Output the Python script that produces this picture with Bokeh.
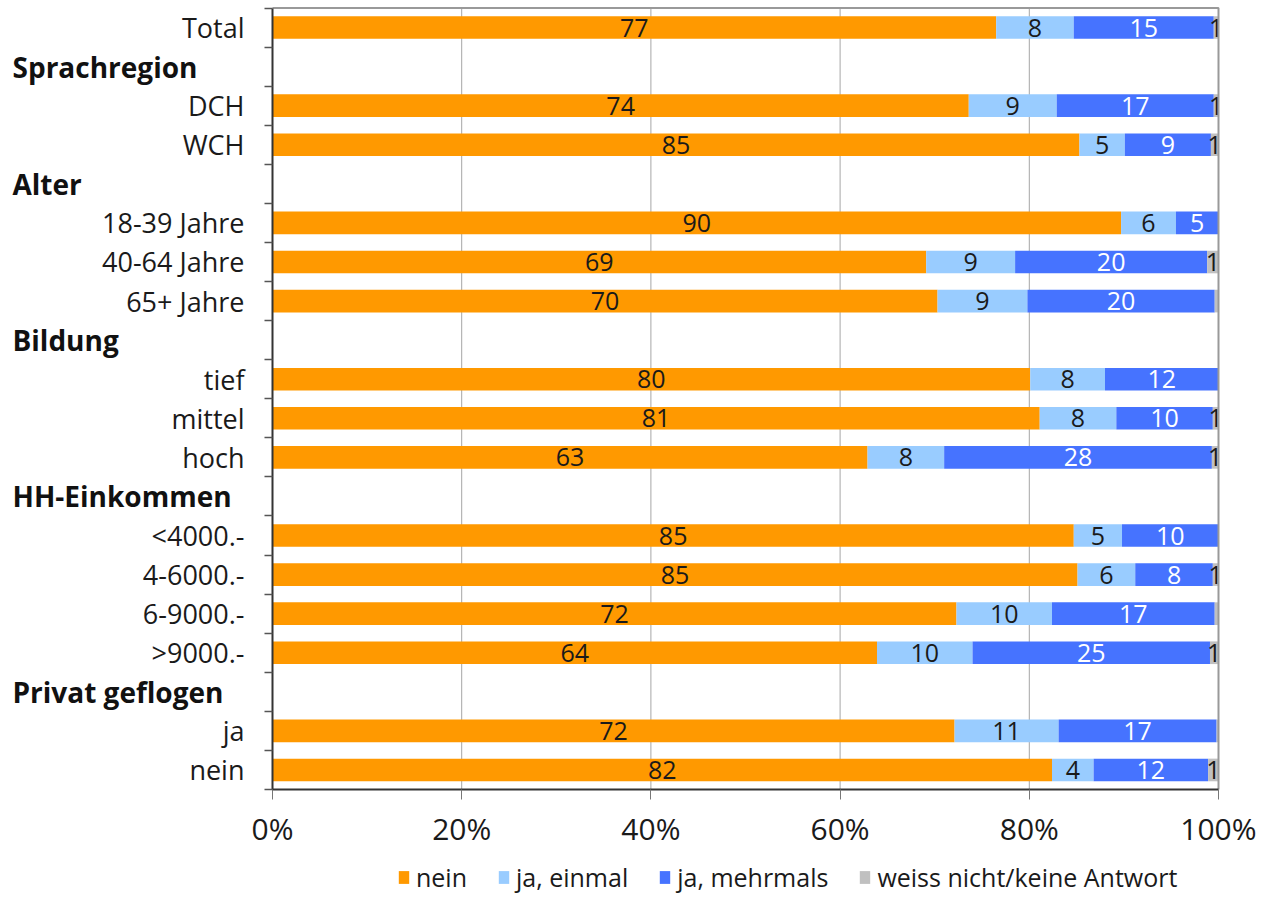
import numpy as np
from bokeh.plotting import figure
from bokeh.models import (Range1d, FixedTicker, Legend, LegendItem, LinearAxis,
                          ColumnDataSource, PrintfTickFormatter)
from bokeh.core.properties import value
from bokeh.embed import file_html
from bokeh.resources import INLINE

# ---------------- data ----------------
rows = ["Total", "Sprachregion", "DCH", "WCH", "Alter", "18-39 Jahre", "40-64 Jahre",
        "65+ Jahre", "Bildung", "tief", "mittel", "hoch", "HH-Einkommen", "<4000.-",
        "4-6000.-", "6-9000.-", ">9000.-", "Privat geflogen", "ja", "nein"]
headers = ["Sprachregion", "Alter", "Bildung", "HH-Einkommen", "Privat geflogen"]
categories = ["Total", "DCH", "WCH", "18-39 Jahre", "40-64 Jahre", "65+ Jahre", "tief",
              "mittel", "hoch", "<4000.-", "4-6000.-", "6-9000.-", ">9000.-", "ja", "nein"]

nein = [76.5, 73.6, 85.3, 89.7, 69.1, 70.3, 80.1, 81.1, 62.9, 84.7, 85.1, 72.3, 63.9, 72.1, 82.4]
ja_einmal = [8.2, 9.3, 4.8, 5.8, 9.4, 9.5, 7.9, 8.1, 8.1, 5.1, 6.1, 10.1, 10.1, 11.0, 4.4]
ja_mehrmals = [14.8, 16.6, 9.1, 4.5, 20.3, 19.8, 12.0, 10.2, 28.3, 10.2, 8.2, 17.2, 25.1, 16.7, 12.1]
weiss_nicht = [0.5, 0.5, 0.8, 0.0, 1.2, 0.4, 0.0, 0.6, 0.7, 0.0, 0.6, 0.4, 0.9, 0.2, 1.1]

nein_lbl = ["77", "74", "85", "90", "69", "70", "80", "81", "63", "85", "85", "72", "64", "72", "82"]
einmal_lbl = ["8", "9", "5", "6", "9", "9", "8", "8", "8", "5", "6", "10", "10", "11", "4"]
mehrmals_lbl = ["15", "17", "9", "5", "20", "20", "12", "10", "28", "10", "8", "17", "25", "17", "12"]
weiss_lbl = ["1", "1", "1", "", "1", "", "", "1", "1", "", "1", "", "1", "", "1"]

series_names = ["nein", "ja, einmal", "ja, mehrmals", "weiss nicht/keine Antwort"]
series_colors = ["#FF9900", "#99CCFF", "#4673FF", "#C0C0C0"]
label_colors = ["#1a1a1a", "#1a1a1a", "#FFFFFF", "#1a1a1a"]

x_ticks = [0, 20, 40, 60, 80, 100]

# ---------------- layout (pixels) ----------------
W, H = 1256, 894
left_px, right_px = 272, 1218        # where 0% and 100% sit on the canvas
top_px, bottom_px = 7.5, 789         # top of first row, bottom of last row
n = len(rows)
ppu = (right_px - left_px) / 100.0
ppr = (bottom_px - top_px) / n
x_start = -left_px / ppu
x_end = 100 + (W - right_px) / ppu
y_top = -0.5 - top_px / ppr
y_bottom = n - 0.5 + (H - bottom_px) / ppr

FONT = "Open Sans"
p = figure(width=W, height=H, x_range=Range1d(x_start, x_end), y_range=Range1d(y_bottom, y_top),
           output_backend="svg", toolbar_location=None, x_axis_location=None, y_axis_location=None,
           min_border=0, min_border_left=0, min_border_right=0, min_border_top=0, min_border_bottom=0)
p.background_fill_color = "white"
p.border_fill_color = "white"
p.outline_line_color = None
p.xgrid.visible = False
p.ygrid.visible = False

# grid lines (inside the plot area only)
grid_x = x_ticks[1:-1]
p.segment(x0=grid_x, x1=grid_x, y0=[-0.5] * len(grid_x), y1=[n - 0.5] * len(grid_x),
          line_color="#A6A6A6", line_width=1)

ys = [rows.index(c) for c in categories]
vals = np.array([nein, ja_einmal, ja_mehrmals, weiss_nicht])
lbls = [nein_lbl, einmal_lbl, mehrmals_lbl, weiss_lbl]
lefts = np.vstack([np.zeros(len(categories)), np.cumsum(vals, axis=0)[:-1]])
rights = lefts + vals

legend_items = []
for i, name in enumerate(series_names):
    src = ColumnDataSource(dict(y=ys, left=lefts[i], right=rights[i],
                                xm=(lefts[i] + rights[i]) / 2, lbl=lbls[i]))
    r = p.hbar(y="y", left="left", right="right", height=0.58, source=src,
               fill_color=series_colors[i], line_color=None)
    p.text(x="xm", y="y", text="lbl", source=src, text_align="center",
           text_baseline="middle", text_font=value(FONT), text_font_size="25px",
           text_color=label_colors[i])
    legend_items.append(LegendItem(label=name, renderers=[r]))

# top and right border of the plot area (grey)
p.line(x=[x_ticks[0], x_ticks[-1], x_ticks[-1]], y=[-0.5, -0.5, n - 0.5],
       line_color="#999999", line_width=2)

# group headers (bold, left aligned)
header_x = (12 - left_px) / ppu
p.text(x=[header_x] * len(headers), y=[rows.index(h) for h in headers], text=headers,
       text_align="left", text_baseline="middle", text_font=value(FONT),
       text_font_style="bold", text_font_size="28px", text_color="#111111")

# x axis
xa = LinearAxis(fixed_location=n - 0.5, bounds=(0, 100))
xa.ticker = FixedTicker(ticks=x_ticks)
xa.formatter = PrintfTickFormatter(format="%d%%")
xa.major_label_text_font = FONT
xa.major_label_text_font_size = "30px"
xa.major_label_text_color = "#1a1a1a"
xa.major_tick_out = 10
xa.major_tick_in = 0
xa.major_tick_line_color = "#777777"
xa.minor_tick_line_color = None
xa.axis_line_color = "#333333"
xa.axis_line_width = 2
xa.major_label_standoff = 8
p.add_layout(xa, "below")

# y axis
ya = LinearAxis(fixed_location=0, bounds=(-0.5, n - 0.5))
ya.ticker = FixedTicker(ticks=ys, minor_ticks=[k - 0.5 for k in range(n + 1)])
ya.major_label_overrides = {y: c for y, c in zip(ys, categories)}
ya.major_label_text_font = FONT
ya.major_label_text_font_size = "27px"
ya.major_label_text_color = "#1a1a1a"
ya.major_tick_out = 0
ya.major_tick_in = 0
ya.minor_tick_out = 8
ya.minor_tick_in = 0
ya.minor_tick_line_color = "#555555"
ya.minor_tick_line_width = 1.5
ya.axis_line_color = "#333333"
ya.axis_line_width = 2
ya.major_label_standoff = 20
p.add_layout(ya, "left")

legend = Legend(items=legend_items, orientation="horizontal", location=(397, 0),
                label_text_font=FONT, label_text_font_size="25px", label_text_color="#1a1a1a",
                glyph_width=13, glyph_height=16, label_standoff=6, spacing=30,
                padding=0, margin=0, border_line_color=None, background_fill_alpha=0)
p.add_layout(legend)

open("out.html", "w").write(file_html(p, INLINE))
